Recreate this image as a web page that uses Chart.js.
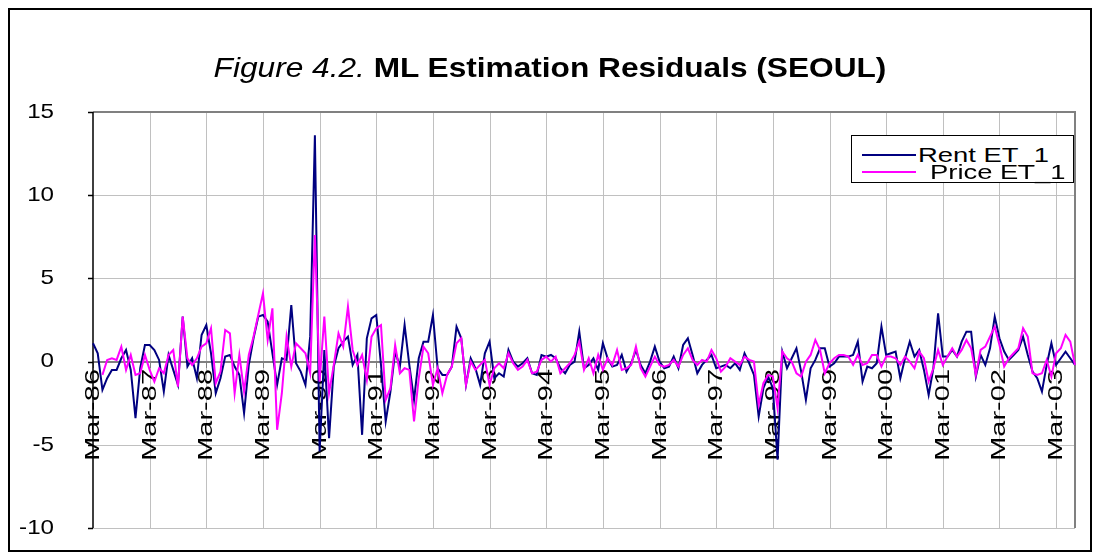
<!DOCTYPE html>
<html>
<head>
<meta charset="utf-8">
<script src="https://cdn.jsdelivr.net/npm/chart.js@4.4.1/dist/chart.umd.min.js"></script>
<style>
  html, body { margin: 0; padding: 0; background: #fff; overflow: hidden; }
  #wrap { position: relative; width: 1099px; height: 560px; overflow: hidden; font-family: "Liberation Sans", Arial, sans-serif; color: #000; }
  #frame { position: absolute; left: 8px; top: 8px; width: 1080px; height: 540px; border: 2px solid #000; pointer-events: none; }
  #title { position: absolute; left: 150px; top: 52px; width: 800px; text-align: center; font-size: 28px; line-height: 32px; white-space: nowrap; transform: scaleX(1.13); transform-origin: 400px 0; }
  #title .fig { font-style: italic; }
  #title .main { font-weight: bold; }
  #legend { position: absolute; left: 851px; top: 135px; width: 223px; height: 48px; border: 1px solid #000; background: #fff; box-sizing: border-box; font-size: 20px; }
  #legend .row { position: absolute; left: 0; right: 0; height: 22px; line-height: 20px; }
  #legend .swatch { position: absolute; left: 10px; top: 9px; width: 54px; height: 2px; }
  #legend .label { position: absolute; top: 0; white-space: nowrap; transform: scaleX(1.37); transform-origin: 0 0; }
  canvas { position: absolute; left: 0; top: 0; }
</style>
</head>
<body>
<div id="wrap">
  <canvas id="residChart" width="1099" height="560"></canvas>
  <div id="title"><span class="fig">Figure 4.2.</span> <span class="main">ML Estimation Residuals (SEOUL)</span></div>
  <div id="legend">
    <div class="row" style="top:9px"><div class="swatch" style="background:#000080"></div><span class="label" style="left:66px">Rent ET_1</span></div>
    <div class="row" style="top:26px"><div class="swatch" style="background:#ff00ff"></div><span class="label" style="left:78px">Price ET_1</span></div>
  </div>
  <div id="frame"></div>
</div>
<script>
// monthly residuals, Mar-86 .. Jul-03
const rentET1 = [
  1.1, 0.5, -1.7, -1.0, -0.5, -0.5, 0.2, 0.7, -0.5, -3.4, -0.4, 1.0,
  1.0, 0.7, 0.1, -1.8, 0.4, -0.5, -1.4, 2.7, -0.3, 0.2, -1.0, 1.6,
  2.2, 0.5, -1.9, -1.0, 0.3, 0.4, -0.3, -0.8, -3.1, -0.2, 1.4, 2.7,
  2.8, 2.4, 0.5, -1.4, 0.2, 0.1, 3.4, -0.1, -0.6, -1.4, 1.5, 13.6,
  -5.4, 0.7, -4.6, -0.3, 0.8, 1.2, 1.5, -0.2, 0.4, -4.4, 1.4, 2.6,
  2.8, -0.2, -3.6, -1.8, 0.6, -0.3, 2.2, -0.2, -2.3, 0.2, 1.2, 1.2,
  2.8, -0.4, -0.8, -0.8, -0.3, 2.1, 1.4, -1.4, 0.2, -0.4, -1.4, 0.5,
  1.2, -1.0, -0.7, -0.9, 0.7, 0.0, -0.3, -0.1, 0.2, -0.7, -0.8, 0.4,
  0.3, 0.4, 0.2, -0.4, -0.7, -0.2, 0.0, 1.8, -0.4, -0.2, 0.2, -0.5,
  1.1, 0.2, -0.3, -0.2, 0.4, -0.6, -0.1, 0.7, -0.2, -0.7, 0.0, 0.9,
  0.0, -0.4, -0.3, 0.3, -0.4, 1.0, 1.4, 0.4, -0.7, -0.2, 0.1, 0.4,
  -0.4, -0.3, -0.2, -0.4, -0.1, -0.5, 0.5, -0.1, -0.8, -3.3, -1.6, -0.9,
  -1.6, -5.9, 0.6, -0.4, 0.2, 0.8, -0.6, -2.3, -0.4, 0.1, 0.8, 0.8,
  -0.3, -0.1, 0.3, 0.3, 0.3, 0.4, 1.2, -1.2, -0.3, -0.4, -0.1, 2.1,
  0.4, 0.5, 0.6, -1.0, 0.2, 1.2, 0.3, 0.7, -0.5, -2.0, -0.4, 2.9,
  0.3, 0.3, 0.7, 0.3, 1.2, 1.8, 1.8, -0.9, 0.4, -0.2, 0.8, 2.7,
  1.4, 0.6, 0.1, 0.4, 0.7, 1.5, 0.4, -0.6, -1.0, -1.8, -0.2, 1.1,
  -0.2, 0.2, 0.6, 0.2, -0.2
];

const priceET1 = [
  null, null, -0.8, 0.1, 0.2, 0.1, 0.9, -0.5, 0.4, -0.8, -0.7, 0.4,
  -0.5, -1.2, -0.4, -0.7, 0.4, 0.7, -1.5, 2.7, 0.2, -0.2, 0.2, 0.9,
  1.1, 2.0, -1.3, -0.6, 1.9, 1.7, -1.9, 0.4, -1.8, 0.4, 1.5, 2.8,
  4.1, 1.3, 3.2, -4.1, -1.9, 1.5, -0.3, 1.1, 0.8, 0.5, -0.7, 7.6,
  -1.2, 2.7, -1.9, -0.2, 1.7, 0.9, 3.3, 0.7, -0.2, 0.4, -1.1, 1.5,
  2.0, 2.2, -2.3, -1.6, 1.0, -0.7, -0.4, -0.5, -3.6, -1.0, 0.9, 0.5,
  -1.4, -0.4, -1.9, -0.8, -0.3, 1.1, 1.4, -1.4, 0.0, -0.5, -0.2, 0.1,
  -1.4, -0.4, -0.1, -0.4, 0.5, -0.1, -0.5, -0.3, 0.1, -0.7, -0.6, 0.1,
  0.3, 0.0, 0.3, -0.7, -0.4, -0.1, 0.4, 1.2, -0.5, 0.2, -0.7, 0.4,
  -0.5, 0.2, -0.2, 0.7, -0.5, -0.4, -0.2, 0.9, -0.4, -0.9, -0.3, 0.3,
  -0.2, -0.3, -0.2, 0.1, -0.3, 0.4, 0.8, 0.1, -0.2, 0.1, 0.0, 0.7,
  0.2, -0.6, -0.3, 0.2, 0.0, -0.2, 0.3, 0.1, 0.0, -2.6, -1.3, -0.8,
  -0.9, -2.8, 0.6, 0.2, 0.0, -0.7, -0.9, 0.0, 0.4, 1.3, 0.7, -0.7,
  -0.1, 0.2, 0.4, 0.4, 0.3, -0.2, 0.4, -0.2, -0.1, 0.4, 0.4, -0.3,
  0.3, 0.3, 0.2, -0.2, 0.3, 0.0, -0.4, 0.6, 0.2, -1.2, -0.4, 0.7,
  -0.2, 0.3, 0.8, 0.3, 0.7, 1.3, 0.8, -0.8, 0.7, 0.9, 1.5, 2.1,
  1.0, -0.3, 0.2, 0.5, 0.8, 2.0, 1.5, -0.7, -0.8, -0.7, 0.1, -0.9,
  0.5, 0.8, 1.6, 1.2, -0.2
];

const monthNames = ['Jan', 'Feb', 'Mar', 'Apr', 'May', 'Jun', 'Jul', 'Aug', 'Sep', 'Oct', 'Nov', 'Dec'];
const yTicks = [-10, -5, 0, 5, 10, 15];

// category labels: one per month starting Mar-86
const months = [];
for (let k = 0; k < rentET1.length; k++) {
  const m = (2 + k) % 12;
  const yr = 86 + Math.floor((2 + k) / 12);
  months.push(monthNames[m] + '-' + String(yr % 100).padStart(2, '0'));
}

const FONT = '21px "Liberation Sans", Arial, sans-serif';
const HIDDEN = 'rgba(0,0,0,0)';

// gridlines, axis lines and the (wide, Excel-like) labels, all placed
// from the chart's own scales; drawn before the lines so they run over them
const excelAxes = {
  id: 'excelAxes',
  beforeDatasetsDraw(chart) {
    const a = chart.chartArea;
    const xs = chart.scales.x;
    const ys = chart.scales.y;
    const c = chart.ctx;
    const y0 = Math.round(ys.getPixelForValue(0));
    const marchX = [];
    months.forEach((lab, i) => {
      if (i % 12 === 0) marchX.push([Math.round(xs.getPixelForValue(i)), lab]);
    });
    c.save();

    c.lineWidth = 1;
    c.strokeStyle = '#c0c0c0';
    c.beginPath();
    yTicks.forEach(v => {
      if (v === 0) return;
      const y = Math.round(ys.getPixelForValue(v)) + 0.5;
      c.moveTo(a.left, y);
      c.lineTo(a.right, y);
    });
    marchX.forEach(([x], k) => {
      if (k === 0) return;
      c.moveTo(x + 0.5, a.top);
      c.lineTo(x + 0.5, a.bottom);
    });
    c.stroke();

    c.strokeStyle = '#808080';
    c.beginPath();
    marchX.forEach(([x]) => {
      c.moveTo(x + 0.5, y0);
      c.lineTo(x + 0.5, y0 + 6);
    });
    c.stroke();

    c.lineWidth = 2;
    c.beginPath();
    c.moveTo(a.left, y0);
    c.lineTo(a.right, y0);
    c.moveTo(a.left, a.top);
    c.lineTo(a.right, a.top);
    c.lineTo(a.right, a.bottom);
    c.stroke();

    c.strokeStyle = '#000';
    c.lineWidth = 1.5;
    c.beginPath();
    c.moveTo(a.left, a.top);
    c.lineTo(a.left, a.bottom);
    yTicks.forEach(v => {
      const y = Math.round(ys.getPixelForValue(v)) + 0.5;
      c.moveTo(a.left - 5, y);
      c.lineTo(a.left, y);
    });
    c.stroke();

    c.fillStyle = '#000';
    c.font = FONT;
    c.textBaseline = 'middle';
    c.textAlign = 'right';
    marchX.forEach(([x, lab]) => {
      c.save();
      c.translate(x + 0.5, y0 + 7);
      c.rotate(-Math.PI / 2);
      c.scale(1.38, 1);
      c.fillText(lab, 0, 0);
      c.restore();
    });
    yTicks.forEach(v => {
      c.save();
      c.translate(54, ys.getPixelForValue(v));
      c.scale(1.15, 1);
      c.fillText(String(v), 0, 0);
      c.restore();
    });
    c.restore();
  }
};

const ctx = document.getElementById('residChart').getContext('2d');

const config = {
  type: 'line',
  data: {
    labels: months,
    datasets: [{
      label: 'Rent ET_1',
      data: rentET1,
      borderColor: '#000080',
      backgroundColor: '#000080',
      borderWidth: 2,
      pointRadius: 0,
      tension: 0,
      order: 1
    }, {
      label: 'Price ET_1',
      data: priceET1,
      borderColor: '#ff00ff',
      backgroundColor: '#ff00ff',
      borderWidth: 2,
      pointRadius: 0,
      tension: 0,
      order: 0
    }]
  },
  options: {
    responsive: false,
    animation: false,
    layout: { padding: { top: 112, right: 24, bottom: 32, left: 0 } },
    plugins: {
      legend: { display: false },
      tooltip: { enabled: false },
      title: { display: false }
    },
    scales: {
      x: {
        type: 'category',
        position: { y: 0 },
        grid: { display: false },
        border: { display: false },
        ticks: { autoSkip: false, maxRotation: 0, color: HIDDEN, callback: () => '' }
      },
      y: {
        min: -10,
        max: 15,
        afterFit: s => { s.width = 93; },
        afterBuildTicks: s => { s.ticks = yTicks.map(v => ({ value: v })); },
        grid: { display: false },
        border: { display: false },
        ticks: { color: HIDDEN }
      }
    }
  },
  plugins: [excelAxes]
};

const residChart = new Chart(ctx, config);
</script>
</body>
</html>
